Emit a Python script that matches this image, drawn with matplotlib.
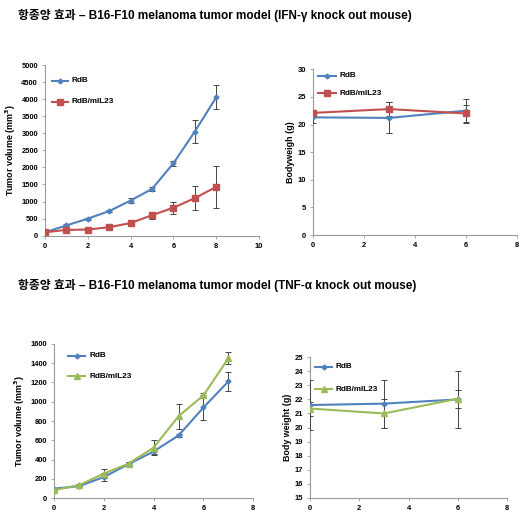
import matplotlib.pyplot as plt
from matplotlib.lines import Line2D

# IFN-gamma KO: tumor volume
days_a = [0, 1, 2, 3, 4, 5, 6, 7, 8]
rdb_vol_a = [100, 300, 500, 720, 1030, 1370, 2120, 3050, 4050]
rdb_vol_a_err = [20, 30, 30, 40, 60, 70, 80, 340, 350]
il23_vol_a = [100, 170, 180, 250, 370, 600, 820, 1100, 1430]
il23_vol_a_err = [20, 20, 20, 50, 80, 100, 180, 350, 620]

# IFN-gamma KO: body weight
wdays_a = [0, 3, 6]
rdb_bw_a = [21.3, 21.2, 22.5]
rdb_bw_a_err = [1.0, 2.8, 2.2]
il23_bw_a = [22.1, 22.8, 22.0]
il23_bw_a_err = [0.5, 1.3, 1.5]

# TNF-alpha KO: tumor volume
days_b = [0, 1, 2, 3, 4, 5, 6, 7]
rdb_vol_b = [100, 125, 220, 355, 485, 650, 940, 1210]
rdb_vol_b_err = [10, 10, 40, 15, 30, 15, 130, 95]
il23_vol_b = [85, 135, 255, 360, 525, 850, 1065, 1450]
il23_vol_b_err = [10, 10, 50, 15, 80, 130, 20, 60]

# TNF-alpha KO: body weight
wdays_b = [0, 3, 6]
rdb_bw_b = [21.6, 21.7, 22.0]
rdb_bw_b_err = [1.75, 1.7, 2.0]
il23_bw_b = [21.35, 21.0, 22.05]
il23_bw_b_err = [0.5, 1.0, 0.65]

labels = ["RdB", "RdB/mIL23"]
titles = ["항종양 효과 – B16-F10 melanoma tumor model (IFN-γ knock out mouse)",
          "항종양 효과 – B16-F10 melanoma tumor model (TNF-α knock out mouse)"]

BLUE = "#4F81BD"
RED = "#C0504D"
GREEN = "#9BBB59"
plt.rcParams['font.family'] = ["Liberation Sans", "Noto Sans CJK KR", "DejaVu Sans"]
plt.rcParams['font.weight'] = 'bold'

W, H = 531, 523
fig = plt.figure(figsize=(W / 100, H / 100), dpi=100)


def px_axes(l, r, b, t):
    # pixel box (from top-left) -> figure fraction axes
    return fig.add_axes([l / W, 1 - b / H, (r - l) / W, (b - t) / H])


def style(ax, xmax, xstep, ymin, ymax, ystep, ylabel, labx):
    ax.set_xlim(0, xmax)
    ax.set_ylim(ymin, ymax)
    ax.set_xticks(range(0, xmax + 1, xstep))
    yt = []
    v = ymin
    while v <= ymax + 1e-9:
        yt.append(v)
        v += ystep
    ax.set_yticks(yt)
    for s in ["top", "right"]:
        ax.spines[s].set_visible(False)
    for s in ["left", "bottom"]:
        ax.spines[s].set_color("#9a9a9a")
        ax.spines[s].set_linewidth(0.8)
    ax.tick_params(labelsize=5.4, length=2.5, width=0.6, color="#9a9a9a", pad=2.5)
    ax.set_ylabel(ylabel, fontsize=6.4, fontweight="bold")
    ax.yaxis.set_label_coords(labx, 0.5)


def series(ax, x, y, e, color, marker, ms):
    ax.errorbar(x, y, yerr=e, color=color, marker=marker, markersize=ms, lw=1.5,
                ecolor="#444444", elinewidth=0.7, capsize=2, capthick=0.7, zorder=3)


def legend(x0, x1, ys, styles):
    for y, (color, marker, ms), lab in zip(ys, styles, labels):
        fy = 1 - y / H
        fig.add_artist(Line2D([x0 / W, x1 / W], [fy, fy], color=color, lw=1.5))
        fig.add_artist(Line2D([(x0 + x1) / 2 / W], [fy], color=color, marker=marker,
                              markersize=ms, lw=0))
        fig.text((x1 + 4) / W, fy, lab, fontsize=5.9, fontweight="bold", va="center")


blue_st = (BLUE, "D", 2.5)
red_st = (RED, "s", 4)
green_st = (GREEN, "^", 4)

ax1 = px_axes(45, 259, 235.7, 65)
series(ax1, days_a, rdb_vol_a, rdb_vol_a_err, *blue_st)
series(ax1, days_a, il23_vol_a, il23_vol_a_err, *red_st)
style(ax1, 10, 2, 0, 5000, 500, "Tumor volume (mm$^3$)", -0.126)
legend(52, 68, [81, 101.7], [blue_st, red_st])

ax2 = px_axes(312.7, 516.7, 235, 69.3)
series(ax2, wdays_a, rdb_bw_a, rdb_bw_a_err, *blue_st)
series(ax2, wdays_a, il23_bw_a, il23_bw_a_err, *red_st)
style(ax2, 8, 2, 0, 30, 5, "Bodyweigh (g)", -0.087)
legend(318, 336, [75.7, 93.3], [blue_st, red_st])

ax3 = px_axes(54, 253.3, 498.3, 343.7)
series(ax3, days_b, rdb_vol_b, rdb_vol_b_err, *blue_st)
series(ax3, days_b, il23_vol_b, il23_vol_b_err, *green_st)
style(ax3, 8, 2, 0, 1600, 200, "Tumor volume (mm$^3$)", -0.135)
legend(68, 85, [355.7, 376], [blue_st, green_st])

ax4 = px_axes(310, 507.3, 497.7, 357.3)
series(ax4, wdays_b, rdb_bw_b, rdb_bw_b_err, *blue_st)
series(ax4, wdays_b, il23_bw_b, il23_bw_b_err, *green_st)
style(ax4, 8, 2, 15, 25, 1, "Body weight (g)", -0.091)
legend(315, 332, [367, 389.3], [blue_st, green_st])

fig.text(18 / W, 1 - 15 / H, titles[0], fontsize=8.5, fontweight="bold", va="center")
fig.text(18 / W, 1 - 285 / H, titles[1], fontsize=8.5, fontweight="bold", va="center")

fig.savefig("out.png", dpi=100)
